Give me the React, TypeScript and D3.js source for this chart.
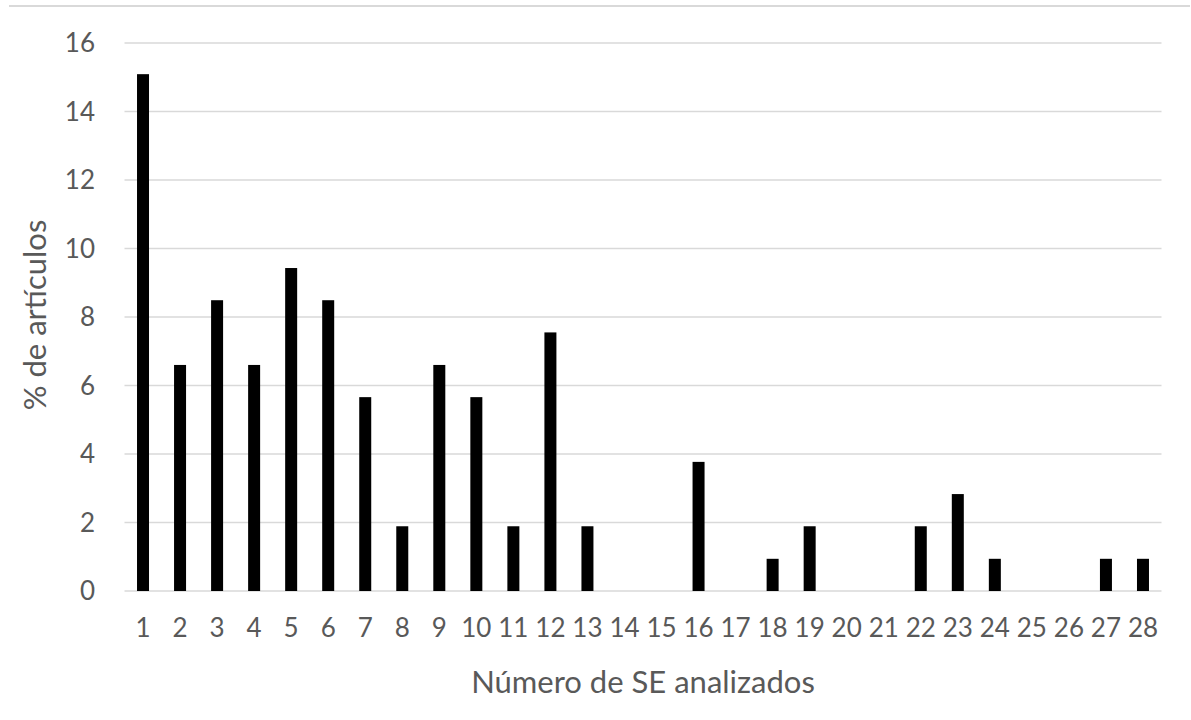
import React from "react";
import * as d3 from "d3";

const categories: string[] = Array.from({ length: 28 }, (_, i) => String(i + 1));
const values: number[] = [
  15.09, 6.6, 8.49, 6.6, 9.43, 8.49, 5.66, 1.89, 6.6, 5.66, 1.89, 7.55, 1.89, 0,
  0, 3.77, 0, 0.94, 1.89, 0, 0, 1.89, 2.83, 0.94, 0, 0, 0.94, 0.94,
];
const yTicks: number[] = [0, 2, 4, 6, 8, 10, 12, 14, 16];
const xTitle = "Número de SE analizados";
const yTitle = "% de artículos";

const W = 1191;
const H = 720;
const FONT = "Lato, 'Open Sans', sans-serif";
const TEXT = "#595959";

export default function App() {
  const y = d3.scaleLinear().domain([0, 16]).range([591, 43]);
  const band = d3.scaleBand<string>().domain(categories).range([124.5, 1161.5]);
  const bw = 12;
  return (
    <svg width={W} height={H} style={{ position: "absolute", left: 0, top: 0, background: "#fff" }}>
      <line x1={9} x2={1190} y1={6} y2={6} stroke="#d9d9d9" strokeWidth={2} />
      {yTicks.map((t) => (
        <g key={t}>
          <line x1={124.5} x2={1161.5} y1={y(t)} y2={y(t)} stroke="#d9d9d9" strokeWidth={1.5} />
          <text x={95} y={y(t)} dy="0.36em" textAnchor="end" fontFamily={FONT} fontSize={26} fill={TEXT}>
            {t}
          </text>
        </g>
      ))}
      {categories.map((c, i) => {
        const cx = band(c)! + band.bandwidth() / 2;
        return (
          <g key={c}>
            {values[i] > 0 && (
              <rect x={cx - bw / 2} y={y(values[i])} width={bw} height={y(0) - y(values[i])} fill="#000" />
            )}
            <text x={cx} y={628} dy="0.36em" textAnchor="middle" fontFamily={FONT} fontSize={26} fill={TEXT}>
              {c}
            </text>
          </g>
        );
      })}
      <text x={643} y={693} textAnchor="middle" fontFamily={FONT} fontSize={31} fill={TEXT}>
        {xTitle}
      </text>
      <text
        transform={`translate(46,315) rotate(-90)`}
        textAnchor="middle"
        fontFamily={FONT}
        fontSize={31}
        fill={TEXT}
      >
        {yTitle}
      </text>
    </svg>
  );
}
